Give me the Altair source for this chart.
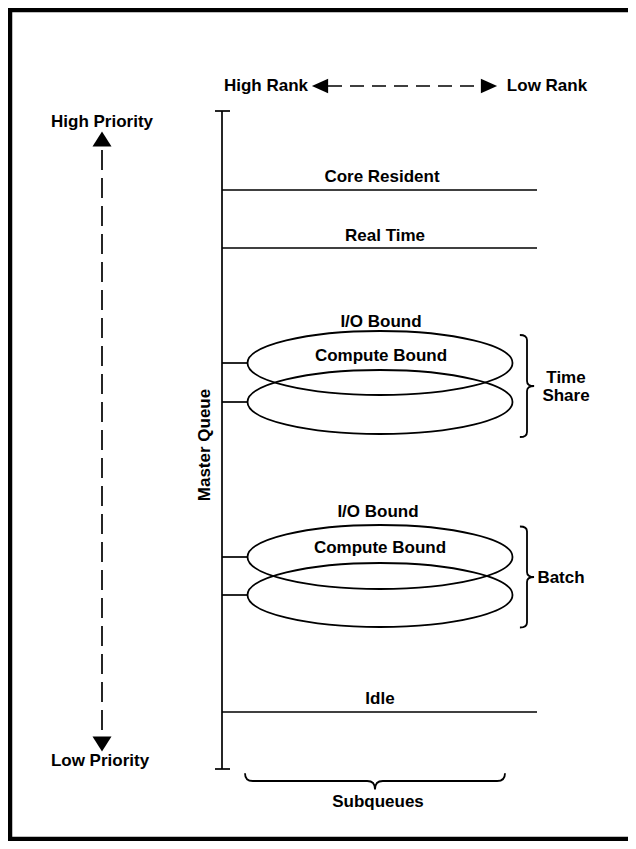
import altair as alt
import pandas as pd

# ---- diagram data (page-pixel coordinates) ----
# horizontal subqueue lines
line_labels = ["Core Resident", "Real Time", "Idle"]
line_y = [190, 248, 712]
line_label_x = [382, 385, 380]
line_label_y = [177, 236, 699]
line_x_start = 222
line_x_end = 537

# master queue
master_x = 222
master_top = 111
master_bottom = 769

# ellipse subqueues (centre y) for Time Share and Batch
ellipse_groups = ["Time Share", "Time Share", "Batch", "Batch"]
ellipse_cy = [363, 402, 557, 595]
ellipse_cx = 380
ellipse_left = 247
ellipse_w = 265
ellipse_h = 64

# ellipse labels
ell_labels = ["I/O Bound", "Compute Bound", "I/O Bound", "Compute Bound"]
ell_label_x = [381, 381, 378, 380]
ell_label_y = [322, 356, 512, 548]

# braces
brace_names = ["Time Share", "Batch"]
brace_cx = [527, 527]
brace_cy = [386, 577]
brace_h = [102, 101]

# other labels
other_text = ["High Rank", "Low Rank", "High Priority", "Low Priority", "Time", "Share", "Batch", "Subqueues"]
other_x = [266, 547, 102, 100, 566, 566, 561, 378]
other_y = [86, 86, 122, 761, 378, 396, 578, 802]

# open frame (top, left, bottom edges)
frame_x = [640, 10, 10, 640]
frame_y = [10, 10, 839, 839]

# ---- build tables ----
xs = alt.Scale(domain=[8, 628], nice=False, zero=False)
ys = alt.Scale(domain=[8, 841], reverse=True, nice=False, zero=False)
X = lambda f="x": alt.X(f"{f}:Q", scale=xs, axis=None)
Y = lambda f="y": alt.Y(f"{f}:Q", scale=ys, axis=None)

# horizontal segments: x, x2, y
hsegs = []
hsegs.append(dict(x=master_x - 7, x2=master_x + 8, y=master_top))
hsegs.append(dict(x=master_x - 7, x2=master_x + 8, y=master_bottom))
for yy in line_y:
    hsegs.append(dict(x=line_x_start, x2=line_x_end, y=yy))
for cy in ellipse_cy:
    hsegs.append(dict(x=line_x_start, x2=ellipse_left, y=cy))
h_df = pd.DataFrame(hsegs)

v_df = pd.DataFrame([dict(x=master_x, y=master_top, y2=master_bottom)])

hdash_df = pd.DataFrame([dict(x=328, x2=482, y=86)])
vdash_df = pd.DataFrame([dict(x=102, y=150, y2=736)])

frame_df = pd.DataFrame(dict(x=frame_x, y=frame_y, o=list(range(len(frame_x)))))

def tri(d):
    return {
        "up": "M 0 -0.8 L 1 0.8 L -1 0.8 Z",
        "down": "M 0 0.8 L 1 -0.8 L -1 -0.8 Z",
        "left": "M -0.9 0 L 0.9 -0.8 L 0.9 0.8 Z",
        "right": "M 0.9 0 L -0.9 -0.8 L -0.9 0.8 Z",
    }[d]

arrow_df = pd.DataFrame([
    dict(x=320, y=86, s=tri("left"), size=18 ** 2),
    dict(x=489, y=86, s=tri("right"), size=18 ** 2),
    dict(x=102, y=139, s=tri("up"), size=19 ** 2),
    dict(x=102, y=744, s=tri("down"), size=19 ** 2),
])

r = ellipse_h / ellipse_w
k = 0.5523
ell_path = (
    f"M -1 0 C -1 {-k*r:.4f} {-k:.4f} {-r:.4f} 0 {-r:.4f} "
    f"C {k:.4f} {-r:.4f} 1 {-k*r:.4f} 1 0 "
    f"C 1 {k*r:.4f} {k:.4f} {r:.4f} 0 {r:.4f} "
    f"C {-k:.4f} {r:.4f} -1 {k*r:.4f} -1 0 Z"
)
ell_df = pd.DataFrame(dict(x=[ellipse_cx] * 4, y=ellipse_cy, g=ellipse_groups,
                           s=[ell_path] * 4, size=[ellipse_w ** 2] * 4))

vbrace = "M -0.14 -1 Q 0 -1 0 -0.9 L 0 -0.1 Q 0 0 0.14 0 Q 0 0 0 0.1 L 0 0.9 Q 0 1 -0.14 1"
hbrace = "M -1 -0.06 Q -1 0 -0.94 0 L -0.06 0 Q 0 0 0 0.065 Q 0 0 0.06 0 L 0.94 0 Q 1 0 1 -0.06"
brace_df = pd.DataFrame(
    [dict(x=cx, y=cy, s=vbrace, size=h ** 2) for cx, cy, h in zip(brace_cx, brace_cy, brace_h)]
    + [dict(x=375, y=781, s=hbrace, size=260 ** 2)]
)

text_df = pd.DataFrame(dict(
    t=line_labels + ell_labels + other_text,
    x=line_label_x + ell_label_x + other_x,
    y=line_label_y + ell_label_y + other_y,
))
mq_df = pd.DataFrame(dict(t=["Master Queue"], x=[205], y=[445]))

FONT = "Liberation Sans"

frame = alt.Chart(frame_df).mark_line(color="black", strokeWidth=4.5, strokeJoin="miter").encode(
    x=X(), y=Y(), order="o:Q")
hrules = alt.Chart(h_df).mark_rule(color="black", strokeWidth=1.7).encode(
    x=X(), x2="x2:Q", y=Y())
vrules = alt.Chart(v_df).mark_rule(color="black", strokeWidth=1.7).encode(
    x=X(), y=Y(), y2="y2:Q")
hdash = alt.Chart(hdash_df).mark_rule(color="black", strokeWidth=1.7, strokeDash=[14, 8]).encode(
    x=X(), x2="x2:Q", y=Y())
vdash = alt.Chart(vdash_df).mark_rule(color="black", strokeWidth=1.7, strokeDash=[20, 8]).encode(
    x=X(), y=Y(), y2="y2:Q")
arrows = alt.Chart(arrow_df).mark_point(filled=True, color="black", opacity=1).encode(
    x=X(), y=Y(), shape=alt.Shape("s:N", scale=None), size=alt.Size("size:Q", scale=None))
ellipses = alt.Chart(ell_df).mark_point(filled=False, color="black", strokeWidth=1.8, opacity=1).encode(
    x=X(), y=Y(), shape=alt.Shape("s:N", scale=None), size=alt.Size("size:Q", scale=None))
braces = alt.Chart(brace_df).mark_point(filled=False, color="black", strokeWidth=1.8, opacity=1).encode(
    x=X(), y=Y(), shape=alt.Shape("s:N", scale=None), size=alt.Size("size:Q", scale=None))
texts = alt.Chart(text_df).mark_text(font=FONT, fontSize=17, fontWeight="bold", color="black",
                                     baseline="middle", align="center").encode(
    x=X(), y=Y(), text="t:N")
mq = alt.Chart(mq_df).mark_text(font=FONT, fontSize=17, fontWeight="bold", color="black",
                                baseline="middle", align="center", angle=270).encode(
    x=X(), y=Y(), text="t:N")

chart = alt.layer(frame, hrules, vrules, hdash, vdash, arrows, ellipses, braces, texts, mq).properties(
    width=620, height=833, padding=0, autosize="none", background="white"
).configure_view(strokeWidth=0, strokeOpacity=0)

chart.save("out.html", embed_options={"renderer": "svg", "actions": False})
